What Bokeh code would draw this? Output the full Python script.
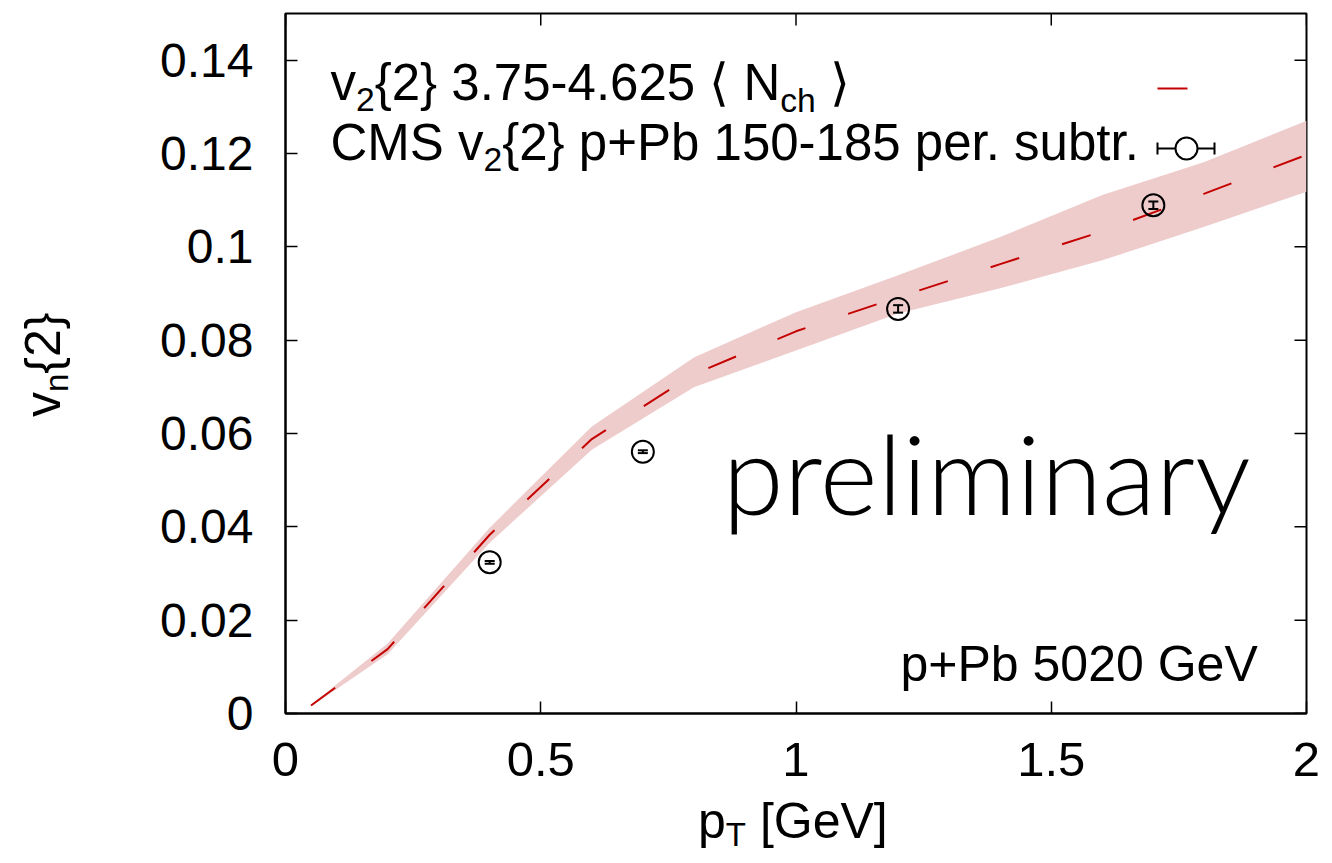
from bokeh.plotting import figure
from bokeh.models import Range1d, FixedTicker, Label, Whisker, TeeHead, ColumnDataSource, Div
from bokeh.layouts import row, column
from bokeh.embed import file_html
from bokeh.resources import INLINE

# ---------------- data ----------------
model_pt = [0.05, 0.2, 0.4, 0.6, 0.8, 1.0, 1.2, 1.4, 1.6, 1.8, 2.0]
model_v2 = [0.0017, 0.0138, 0.0383, 0.0588, 0.0727, 0.0819, 0.0892, 0.0963, 0.1033, 0.1114, 0.1197]
model_lo = [0.0015, 0.0127, 0.0366, 0.0565, 0.0699, 0.0778, 0.0857, 0.0911, 0.0971, 0.1043, 0.1118]
model_hi = [0.0019, 0.0150, 0.0398, 0.0615, 0.0763, 0.0860, 0.0939, 0.1021, 0.1111, 0.1182, 0.1270]

cms_pt = [0.4, 0.7, 1.2, 1.7]
cms_v2 = [0.0324, 0.0561, 0.0867, 0.1089]
cms_err = [0.0003, 0.0003, 0.0008, 0.0008]

x_ticks = [0, 0.5, 1, 1.5, 2]
x_tick_labels = ["0", "0.5", "1", "1.5", "2"]
y_ticks = [0, 0.02, 0.04, 0.06, 0.08, 0.1, 0.12, 0.14]
y_tick_labels = ["0", "0.02", "0.04", "0.06", "0.08", "0.1", "0.12", "0.14"]

legend_model = [("v", 0), ("2", 1), ("{2} 3.75-4.625 \u27e8 N", 0), ("ch", 1), (" \u27e9", 0)]
legend_cms = [("CMS v", 0), ("2", 1), ("{2} p+Pb 150-185 per. subtr.", 0)]
x_title = [("p", 0), ("T", 1), (" [GeV]", 0)]
y_title = [("v", 0), ("n", 1), ("{2}", 0)]
system_text = "p+Pb 5020 GeV"
watermark = "preliminary"

# ---------------- layout ----------------
W, H = 1332, 863
YDIV_W = 85              # strip at the left holding the y-axis title
FIG_W, FIG_H = W - YDIV_W, 800
XDIV_H = H - FIG_H
FL, FR, FT, FB = 285, 1306, 13, 713   # frame in window pixels
XMIN, XMAX, YMIN, YMAX = 0.0, 2.0, 0.0, 0.15
FONT = "Liberation Sans"
RED = "#c40000"
BAND = "#efcccc"
BASE_FIX = 0.39          # Label baseline correction (fraction of font size)


def dx(px):
    return XMIN + (px - FL) / (FR - FL) * (XMAX - XMIN)


def dy(py):
    return YMIN + (FB - py) / (FB - FT) * (YMAX - YMIN)


ADV = {' ': 278, '.': 278, '-': 333, '+': 584, '{': 334, '}': 334, '[': 278, ']': 278,
       'a': 556, 'b': 556, 'c': 500, 'd': 556, 'e': 556, 'h': 556, 'i': 222, 'l': 222,
       'm': 833, 'n': 556, 'p': 556, 'r': 333, 's': 500, 't': 278, 'u': 556, 'v': 500,
       'y': 500, 'C': 722, 'M': 833, 'S': 667, 'P': 667, 'N': 722, 'G': 778, 'V': 667,
       'T': 611, '\u27e8': 390, '\u27e9': 390}


def tw(text, size):
    return sum(ADV.get(ch, 556) for ch in text) / 1000.0 * size


p = figure(width=FIG_W, height=FIG_H, output_backend="svg", toolbar_location=None,
           x_range=Range1d(XMIN, XMAX), y_range=Range1d(YMIN, YMAX),
           min_border_left=FL - YDIV_W, min_border_right=W - FR, min_border_top=FT,
           min_border_bottom=FIG_H - FB, margin=0)
p.background_fill_color = "white"
p.border_fill_color = "white"
p.grid.visible = False
p.outline_line_color = "black"
p.outline_line_width = 2

for ax, ticks, labels, fs in ((p.xaxis[0], x_ticks, x_tick_labels, "49px"),
                              (p.yaxis[0], y_ticks, y_tick_labels, "48px")):
    ax.ticker = FixedTicker(ticks=ticks)
    ax.major_label_overrides = {t: l for t, l in zip(ticks, labels)}
    ax.major_tick_in = 12
    ax.major_tick_out = 0
    ax.minor_tick_line_color = None
    ax.major_tick_line_width = 1.5
    ax.axis_line_width = 2
    ax.major_label_text_font = FONT
    ax.major_label_text_font_size = fs
    ax.major_label_text_color = "black"
p.xaxis[0].major_label_standoff = 29
p.yaxis[0].major_label_standoff = 32

# mirrored inward ticks on top and right
tlx = 12 / (FR - FL) * (XMAX - XMIN)
tly = 12 / (FB - FT) * (YMAX - YMIN)
p.segment(x0=x_ticks, x1=x_ticks, y0=[YMAX] * len(x_ticks), y1=[YMAX - tly] * len(x_ticks),
          line_color="black", line_width=1.5)
p.segment(x0=[XMAX] * len(y_ticks), x1=[XMAX - tlx] * len(y_ticks), y0=y_ticks, y1=y_ticks,
          line_color="black", line_width=1.5)

# model band + line
p.varea(x=model_pt, y1=model_lo, y2=model_hi, fill_color=BAND, fill_alpha=1.0)
p.line(model_pt, model_v2, line_color=RED, line_width=2, line_dash="30 45")

# CMS points
src = ColumnDataSource(dict(x=cms_pt, y=cms_v2,
                            lo=[v - e for v, e in zip(cms_v2, cms_err)],
                            hi=[v + e for v, e in zip(cms_v2, cms_err)]))
p.add_layout(Whisker(source=src, base="x", lower="lo", upper="hi", dimension="height",
                     line_color="black", line_width=2, level="annotation",
                     lower_head=TeeHead(size=10, line_width=2, line_color="black"),
                     upper_head=TeeHead(size=10, line_width=2, line_color="black")))
p.scatter(x="x", y="y", source=src, marker="circle", size=22, fill_color=None,
          line_color="black", line_width=2)


def add_label(x_px, base_px, text, size, font=FONT):
    p.add_layout(Label(x=dx(x_px), y=dy(base_px - BASE_FIX * size), text=text,
                       text_font=font, text_font_size=f"{size:.1f}px", text_color="black",
                       text_align="left", text_baseline="alphabetic"))


def place(parts, x0, base, F, sub_ratio=0.66, drop=0.2):
    x = x0
    for text, sub in parts:
        size = F * sub_ratio if sub else F
        lead = len(text) - len(text.lstrip(" "))
        x += tw(" " * lead, size)
        text = text.lstrip(" ")
        add_label(x, base + (drop * F if sub else 0), text, size)
        x += tw(text, size)


# legend
place(legend_model, 330, 102, 51)
place(legend_cms, 330, 162, 51)
p.segment(x0=[dx(1157)], x1=[dx(1187)], y0=[dy(88)], y1=[dy(88)], line_color=RED, line_width=2)
p.segment(x0=[dx(1157)], x1=[dx(1214)], y0=[dy(148)], y1=[dy(148)], line_color="black", line_width=2)
p.segment(x0=[dx(1157), dx(1214)], x1=[dx(1157), dx(1214)], y0=[dy(142)] * 2, y1=[dy(154)] * 2,
          line_color="black", line_width=2)
p.scatter(x=[dx(1186)], y=[dy(148)], marker="circle", size=22, fill_color="white",
          line_color="black", line_width=2)

# annotations
add_label(900, 683, system_text, 50)
add_label(722, 515, watermark, 111, font="Lato Light, Lato")


# ---------------- axis titles (HTML text with real subscripts) ----------------
def title_html(parts, F, sub_ratio=0.66, drop=0.17):
    out = []
    for text, sub in parts:
        text = text.replace(" ", "&nbsp;")
        if sub:
            out.append(f'<span style="font-size:{F * sub_ratio:.0f}px;position:relative;'
                       f'top:{drop * F:.0f}px;">{text}</span>')
        else:
            out.append(text)
    return "".join(out)


F_T = 50
ASC = 0.905 * F_T - (1.117 * F_T - F_T) / 2   # baseline distance from line-box top
common = (f"font-family:'{FONT}';font-size:{F_T}px;line-height:{F_T}px;"
          "white-space:nowrap;color:black;")

xt_left, xt_base = 698 - YDIV_W, 838 - FIG_H
xdiv = Div(text=(f'<div style="position:relative;width:{FIG_W}px;height:{XDIV_H}px;">'
                 f'<div style="position:absolute;left:{xt_left}px;top:{xt_base - ASC:.1f}px;{common}">'
                 f'{title_html(x_title, F_T)}</div></div>'),
           width=FIG_W, height=XDIV_H, margin=0)

yt_base_x, yt_start_y = 60, 417
ydiv = Div(text=(f'<div style="position:relative;width:{YDIV_W}px;height:{H}px;">'
                 f'<div style="position:absolute;left:{yt_base_x - ASC:.1f}px;top:{yt_start_y}px;'
                 f'transform-origin:0 0;transform:rotate(-90deg);{common}">'
                 f'{title_html(y_title, F_T)}</div></div>'),
           width=YDIV_W, height=H, margin=0)

layout = row(ydiv, column(p, xdiv, spacing=0), spacing=0)

open("out.html", "w").write(file_html(layout, INLINE))
